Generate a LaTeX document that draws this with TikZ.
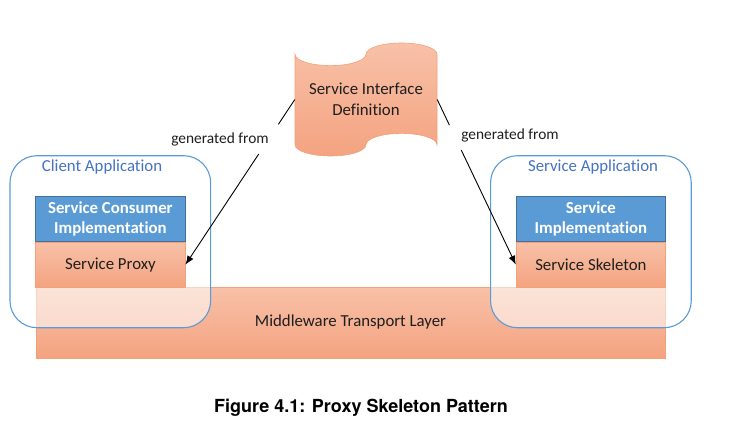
\documentclass[tikz,border=0pt]{standalone}
\usepackage{fontspec}
\setmainfont{Carlito}[Ligatures=NoCommon]
\newfontfamily\capfont{TeX Gyre Heros}
\usetikzlibrary{arrows.meta,calc}
\definecolor{obord}{RGB}{244,160,120}
\definecolor{otop}{RGB}{248,193,168}
\definecolor{obot}{RGB}{244,163,128}
\definecolor{bfill}{RGB}{91,155,213}
\definecolor{bbord}{RGB}{65,113,156}
\definecolor{appblue}{RGB}{91,155,213}
\definecolor{titleblue}{RGB}{68,114,196}
\definecolor{txt}{RGB}{30,30,30}
\begin{document}
\begin{tikzpicture}[x=1pt,y=-1pt,
 every node/.style={inner sep=0pt, text=txt, font=\fontsize{16.8}{20}\selectfont},
 orangebox/.style={draw=obord, line width=0.8pt, top color=otop, bottom color=obot},
 bluebox/.style={draw=bbord, line width=0.6pt, fill=bfill, text=white, font=\fontsize{16.8}{20}\selectfont\bfseries, align=center},
 appbox/.style={draw=appblue, line width=1.1pt, rounded corners=27pt, fill=white, fill opacity=0.55},
 apptitle/.style={text=titleblue},
 genlabel/.style={font=\fontsize{15.4}{18}\selectfont},
 conn/.style={draw=black, line width=0.9pt},
 arr/.style={conn, -{Latex[length=9pt,width=7pt]}}]
\useasboundingbox (0,0) rectangle (733,431);

% middleware layer
\node[orangebox, minimum width=629pt, minimum height=71pt] (mw) at (350.5,322.5) {Middleware Transport Layer};

% application containers
\node[appbox, minimum width=200.7pt, minimum height=172pt] (client) at (110.3,241.7) {};
\node[appbox, minimum width=200.7pt, minimum height=172pt] (sapp) at (590.9,241.7) {};
\node[apptitle] (clientt) at (102,167) {Client Application};
\node[apptitle] (sappt) at (593,167) {Service Application};

% inner boxes
\node[bluebox, minimum width=149.3pt, minimum height=45.7pt] (cons) at (110.4,218.9) {Service Consumer\\Implementation};
\node[orangebox, minimum width=149.3pt, minimum height=45.3pt] (proxy) at (110.4,264.7) {Service Proxy};
\node[bluebox, minimum width=149.3pt, minimum height=45.7pt] (impl) at (590.9,218.9) {Service\\Implementation};
\node[orangebox, minimum width=149.3pt, minimum height=45.3pt] (skel) at (590.9,264.7) {Service Skeleton};

% punched tape shape
\path[draw=obord, line width=0.6pt, top color=otop, bottom color=obot]
 (295,54.3) arc[start angle=180,end angle=0,x radius=35.5,y radius=11.3]
 arc[start angle=180,end angle=360,x radius=35.5,y radius=11.3]
 -- (437,144.7) arc[start angle=0,end angle=-180,x radius=35.5,y radius=11.3]
 arc[start angle=0,end angle=180,x radius=35.5,y radius=11.3] -- cycle;
\node[minimum width=142pt, minimum height=90pt, align=center, font=\fontsize{16.8}{21}\selectfont] (sid) at (366,99.5) {Service Interface\\Definition};

% connectors
\coordinate (gl1) at ($(sid.west)!0.15!(proxy.east)$);
\coordinate (gl2) at ($(sid.west)!0.33!(proxy.east)$);
\coordinate (gr1) at ($(sid.east)!0.155!(skel.west)$);
\coordinate (gr2) at ($(sid.east)!0.306!(skel.west)$);
\draw[conn] (sid.west) -- (gl1);
\draw[arr] (gl2) -- (proxy.east);
\draw[conn] (sid.east) -- (gr1);
\draw[arr] (gr2) -- (skel.west);
\node[genlabel] (gfl) at (220,139) {generated from};
\node[genlabel] (gfr) at (510,135) {generated from};

% caption
\node[text=black, font=\fontsize{18}{22}\selectfont\capfont\bfseries] (cap) at (361,408) {Figure 4.1: Proxy Skeleton Pattern};
\end{tikzpicture}
\end{document}
